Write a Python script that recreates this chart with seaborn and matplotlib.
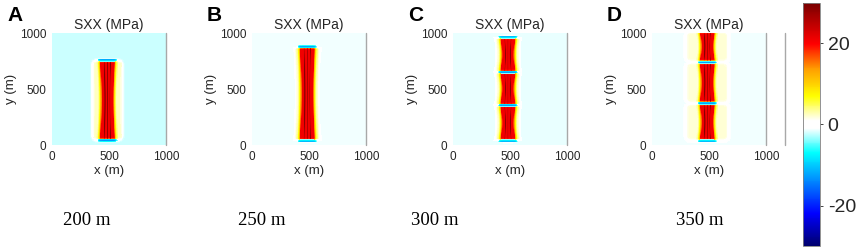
import numpy as np
import matplotlib
matplotlib.use("Agg")
import matplotlib.pyplot as plt
from matplotlib.colors import LinearSegmentedColormap, Normalize
from matplotlib.cm import ScalarMappable
import seaborn as sns

sns.set_style("white")
plt.rcParams['font.family'] = ['Liberation Sans', 'DejaVu Sans']
plt.rcParams['axes.unicode_minus'] = False

# panel data (metres / MPa)
spacing = [200, 250, 300, 350]
letters = ["A", "B", "C", "D"]
seg_bottom = [[50], [45], [45, 362, 658], [45, 382, 748]]
seg_top = [[750], [870], [348, 644, 955], [363, 729, 1010]]
seg_xc = [[486], [485], [482, 482, 482], [485, 485, 485]]
background = [-2.3, -1.4, -1.5, -1.3]
halo_width = [135, 95, 80, 190]
halo_level = [2.5, 1.7, 1.3, 2.0]

# colour scale
vmin, vmax = -30, 30
cmap_nodes = [(-30, "#00006e"), (-22, "#0000ff"), (-14, "#0088ff"), (-7, "#00ffff"),
              (-1, "#ffffff"), (1, "#ffffff"), (7, "#ffff00"), (14, "#ff9900"),
              (20, "#ff0000"), (30, "#7a0000")]
cmap = LinearSegmentedColormap.from_list(
    "sxx", [((v - vmin) / (vmax - vmin), c) for v, c in cmap_nodes])

n = 200
xs = (np.arange(n) + 0.5) * 1000 / n
X, Y = np.meshgrid(xs, xs)


def sig(t):
    return 1.0 / (1.0 + np.exp(-t))


def stress_field(i):
    bg = background[i]
    field = np.full_like(X, bg)
    tip = np.zeros_like(X)
    for y0, y1, xc in zip(seg_bottom[i], seg_top[i], seg_xc[i]):
        d = np.abs(X - xc)
        frac = np.clip((Y - y0) / max(y1 - y0, 1), 0, 1)
        cw = 62 - 14 * np.sin(np.pi * frac)  # pinched in the middle
        sy = sig((Y - y0) / 4) * sig((y1 - Y) / 4)
        ridges = sum(np.exp(-((X - xc - o * cw / 60) / 3.5) ** 2) for o in (-26, 0, 26))
        prof = np.where(d < cw, 21 + 8 * ridges, 20 * np.exp(-(d - cw) / 17))
        # rounded-rectangle halo of weak tension
        r = 50
        hh = (y1 - y0) / 2 + 12
        ddx = np.maximum(d - (halo_width[i] - r), 0)
        ddy = np.maximum(np.abs(Y - (y0 + y1) / 2) - (hh - r), 0)
        dist = np.sqrt(ddx ** 2 + ddy ** 2) - r
        halo = halo_level[i] * sig(-dist / 8)
        seg = np.maximum(prof * sy, halo)
        w = np.clip(np.maximum(sy * (prof > 0.5), halo / halo_level[i]), 0, 1)
        field = np.maximum(field, bg + (seg - bg) * w)
        near = sig((cw + 16 - d) / 6)
        for ye, sgn in ((y0, -1), (y1, 1)):
            tip = np.minimum(tip, -11 * near * np.exp(-((Y - ye - sgn * 9) / 9) ** 2))
    return np.where(tip < -2, np.minimum(field, bg + tip), field)


W, H = 858, 249
fig = plt.figure(figsize=(W / 100, H / 100), dpi=100)
lefts = [52, 252, 453, 652]
label_x = [87, 262, 435, 700]
tick_c = "#262626"

for i in range(4):
    ax = fig.add_axes([lefts[i] / W, 104 / H, 114 / W, 112 / H])
    sns.heatmap(stress_field(i), ax=ax, cmap=cmap, vmin=vmin, vmax=vmax,
                cbar=False, xticklabels=False, yticklabels=False, rasterized=True)
    ax.invert_yaxis()
    ax.set_xticks([0, n / 2, n])
    ax.set_xticklabels(["0", "500", "1000"])
    ax.set_yticks([0, n / 2, n])
    ax.set_yticklabels(["0", "500", "1000"], rotation=0)
    ax.tick_params(length=0, labelsize=8.5, colors=tick_c, pad=4)
    ax.set_xlabel("x (m)", fontsize=9.5, color=tick_c, labelpad=2)
    ax.set_ylabel("y (m)", fontsize=9.5, color=tick_c, labelpad=2)
    ax.set_title("SXX (MPa)", fontsize=10, color=tick_c, pad=3)
    ax.axvline(n, color="#a8a8a8", lw=1.0, clip_on=False)
    if i == 3:
        ax.axvline(n * 1.165, color="#a8a8a8", lw=1.0, clip_on=False)
    fig.text((lefts[i] - 45) / W, 1 - 6 / H, letters[i], fontsize=15,
             fontweight="bold", color="black", ha="left", va="top")
    fig.text(label_x[i] / W, 1 - 220 / H, f"{spacing[i]} m", fontsize=13.5,
             color="black", family=["Liberation Serif", "DejaVu Serif"],
             ha="center", va="center")

cax = fig.add_axes([803 / W, 3 / H, 17 / W, 243 / H])
cb = fig.colorbar(ScalarMappable(norm=Normalize(vmin, vmax), cmap=cmap), cax=cax)
cb.set_ticks([-20, 0, 20])
cb.ax.tick_params(labelsize=14, length=2, colors=tick_c, width=0.6)
cb.outline.set_linewidth(0.6)
cb.outline.set_edgecolor("#808080")

fig.savefig("out.png", dpi=100)
